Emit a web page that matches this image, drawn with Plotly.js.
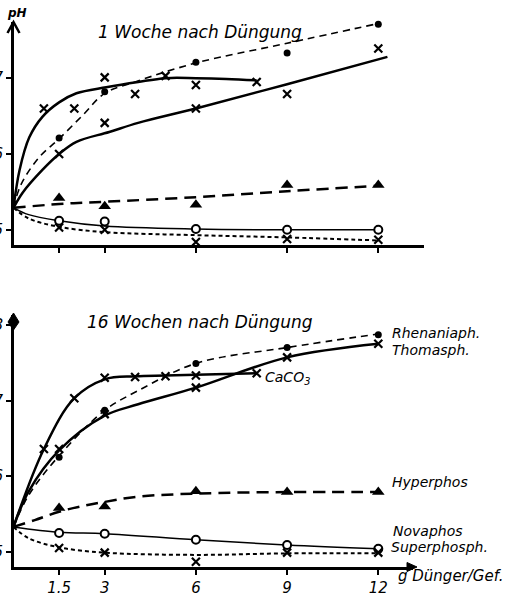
<!DOCTYPE html>
<html><head><meta charset="utf-8">
<script src="https://cdn.plot.ly/plotly-3.0.1.min.js"></script>
<style>html,body{margin:0;padding:0;background:#fff}#chart{width:507px;height:595px}</style>
</head><body><div id="chart"></div>
<script>
// ---------- DATA ----------
const doses = [1.5, 3, 6, 9, 12];
const caco3Doses = [1, 2, 3, 4, 5, 6, 8];
const xTickVals = [1.5, 3, 6, 9, 12];
const xTickText = ["1.5", "3", "6", "9", "12"];

// 1 Woche nach Düngung: measured points
const w1_rhen  = [6.21, 6.82, 7.21, 7.33, 7.71];
const w1_thom  = [6.00, 6.41, 6.60, 6.79, 7.39];
const w1_caco3 = [6.60, 6.60, 7.01, 6.79, 7.03, 6.91, 6.95];
const w1_hyper = [5.42, 5.31, 5.33, 5.59, 5.59];
const w1_nova  = [5.12, 5.11, 5.01, 5.00, 5.00];
const w1_super = [5.03, 5.00, 4.84, 4.88, 4.87];
// 1 Woche: hand-drawn curves
const w1_rhen_fx  = [0, 0.25, 0.85, 1.5, 2.3, 3, 4, 6, 9, 12];
const w1_rhen_fy  = [5.29, 5.60, 5.96, 6.20, 6.52, 6.80, 6.95, 7.20, 7.46, 7.72];
const w1_thom_fx  = [0, 0.3, 0.95, 1.5, 2.07, 3.15, 4.1, 6, 9, 12.3];
const w1_thom_fy  = [5.29, 5.49, 5.79, 6.00, 6.16, 6.29, 6.41, 6.60, 6.92, 7.28];
const w1_caco3_fx = [0, 0.2, 0.52, 0.95, 1.5, 2.07, 3.05, 4.1, 5, 6, 7, 8];
const w1_caco3_fy = [5.29, 5.79, 6.22, 6.49, 6.68, 6.80, 6.88, 6.95, 7.00, 7.00, 6.99, 6.97];
const w1_hyper_fx = [0, 1.5, 3, 6, 9, 12];
const w1_hyper_fy = [5.29, 5.34, 5.37, 5.43, 5.51, 5.58];
const w1_nova_fx  = [0, 0.5, 1.5, 3, 6, 9, 12];
const w1_nova_fy  = [5.29, 5.20, 5.12, 5.05, 5.01, 5.00, 5.00];
const w1_super_fx = [0, 0.5, 1.5, 3, 6, 9, 12];
const w1_super_fy = [5.29, 5.15, 5.04, 4.97, 4.93, 4.90, 4.86];

// 16 Wochen nach Düngung: measured points
const w16_rhen  = [6.25, 6.87, 7.49, 7.70, 7.87];
const w16_thom  = [6.36, 6.82, 7.17, 7.57, 7.75];
const w16_caco3 = [6.36, 7.03, 7.30, 7.31, 7.32, 7.33, 7.36];
const w16_hyper = [5.58, 5.60, 5.80, 5.79, 5.79];
const w16_nova  = [5.25, 5.24, 5.16, 5.09, 5.04];
const w16_super = [5.05, 4.99, 4.87, 4.99, 4.99];
// 16 Wochen: hand-drawn curves
const w16_rhen_fx  = [0, 0.5, 1.5, 3, 4.1, 6, 9, 12];
const w16_rhen_fy  = [5.33, 5.75, 6.27, 6.87, 7.13, 7.49, 7.70, 7.88];
const w16_thom_fx  = [0, 0.5, 1.5, 3, 4.1, 6, 9, 12];
const w16_thom_fy  = [5.33, 5.80, 6.34, 6.80, 6.95, 7.17, 7.57, 7.75];
const w16_caco3_fx = [0, 1, 2, 3, 4, 5, 6, 8];
const w16_caco3_fy = [5.33, 6.36, 7.03, 7.28, 7.32, 7.33, 7.34, 7.36];
const w16_hyper_fx = [0, 0.7, 1.5, 2.2, 3, 4.1, 6, 9, 12];
const w16_hyper_fy = [5.33, 5.42, 5.53, 5.60, 5.66, 5.73, 5.77, 5.79, 5.79];
const w16_nova_fx  = [0, 1.5, 3, 6, 9, 12];
const w16_nova_fy  = [5.33, 5.26, 5.24, 5.16, 5.09, 5.04];
const w16_super_fx = [0, 0.5, 1.5, 3, 6, 9, 12];
const w16_super_fy = [5.33, 5.18, 5.06, 4.99, 4.96, 4.98, 4.98];

const seriesLabels = ["Rhenaniaph.", "Thomasph.", "CaCO<sub>3</sub>", "Hyperphos", "Novaphos", "Superphosph."];

// ---------- STYLE ----------
const W = 507, H = 595;
const px = v => v / W, py = v => 1 - v / H;
const FONT = "DejaVu Sans";
const K = "#000";

const lineStyles = {
  rhen:  {color: K, width: 1.6, dash: "7px,5px", shape: "spline", smoothing: 1},
  thom:  {color: K, width: 2.5, shape: "spline", smoothing: 1},
  caco3: {color: K, width: 2.5, shape: "spline", smoothing: 1},
  hyper: {color: K, width: 2.5, dash: "12px,7px", shape: "spline", smoothing: 1},
  nova:  {color: K, width: 1.5, shape: "spline", smoothing: 1},
  sup:   {color: K, width: 2.0, dash: "4px,3px", shape: "spline", smoothing: 1}
};
const mk = {
  x:   {symbol: "x-thin", size: 8, line: {color: K, width: 2.2}, color: K},
  dot: {symbol: "circle", size: 7, color: K},
  tri: {symbol: "triangle-up", size: 11, color: K},
  o:   {symbol: "circle", size: 8, color: "#fff", line: {color: K, width: 2}}
};

function curve(x, y, style, xa, ya) {
  return {type: "scatter", mode: "lines", x: x, y: y, line: style, xaxis: xa, yaxis: ya, hoverinfo: "skip", showlegend: false};
}
function pts(x, y, m, xa, ya) {
  return {type: "scatter", mode: "markers", x: x, y: y, marker: m, xaxis: xa, yaxis: ya, hoverinfo: "skip", showlegend: false, cliponaxis: false};
}

const traces = [
  curve(w1_rhen_fx, w1_rhen_fy, lineStyles.rhen, "x", "y"),
  curve(w1_thom_fx, w1_thom_fy, lineStyles.thom, "x", "y"),
  curve(w1_caco3_fx, w1_caco3_fy, lineStyles.caco3, "x", "y"),
  curve(w1_hyper_fx, w1_hyper_fy, lineStyles.hyper, "x", "y"),
  curve(w1_nova_fx, w1_nova_fy, lineStyles.nova, "x", "y"),
  curve(w1_super_fx, w1_super_fy, lineStyles.sup, "x", "y"),
  pts(doses, w1_rhen, mk.dot, "x", "y"),
  pts(doses, w1_thom, mk.x, "x", "y"),
  pts(caco3Doses, w1_caco3, mk.x, "x", "y"),
  pts(doses, w1_hyper, mk.tri, "x", "y"),
  pts(doses, w1_nova, mk.o, "x", "y"),
  pts(doses, w1_super, mk.x, "x", "y"),

  curve(w16_rhen_fx, w16_rhen_fy, lineStyles.rhen, "x2", "y2"),
  curve(w16_thom_fx, w16_thom_fy, lineStyles.thom, "x2", "y2"),
  curve(w16_caco3_fx, w16_caco3_fy, lineStyles.caco3, "x2", "y2"),
  curve(w16_hyper_fx, w16_hyper_fy, lineStyles.hyper, "x2", "y2"),
  curve(w16_nova_fx, w16_nova_fy, lineStyles.nova, "x2", "y2"),
  curve(w16_super_fx, w16_super_fy, lineStyles.sup, "x2", "y2"),
  pts(doses, w16_rhen, mk.dot, "x2", "y2"),
  pts(doses, w16_thom, mk.x, "x2", "y2"),
  pts(caco3Doses, w16_caco3, mk.x, "x2", "y2"),
  pts(doses, w16_hyper, mk.tri, "x2", "y2"),
  pts(doses, w16_nova, mk.o, "x2", "y2"),
  pts(doses, w16_super, mk.x, "x2", "y2")
];

const axCommon = {showgrid: false, zeroline: false, showline: true, linecolor: K, linewidth: 2.5,
  ticks: "outside", tickcolor: K, tickwidth: 2, ticklen: 5, fixedrange: true};
const tickFont = {family: FONT, size: 15, color: K, style: "italic"};

const labelFont = {family: FONT, size: 14, color: K, style: "italic"};
function lab(text, x, y) {
  return {text: text, x: px(x), y: py(y), xref: "paper", yref: "paper", xanchor: "left", showarrow: false, font: labelFont};
}

const yTop = {domain: [py(245), py(22)], range: [4.80, 7.74], tickvals: [5, 6, 7]};
const yBot = {domain: [py(567), py(315)], range: [4.80, 8.13], tickvals: [5, 6, 7, 8]};

const layout = {
  width: W, height: H, margin: {l: 0, r: 0, t: 0, b: 0},
  paper_bgcolor: "#fff", plot_bgcolor: "rgba(0,0,0,0)", showlegend: false,
  xaxis: Object.assign({}, axCommon, {domain: [px(13.5), px(424)], range: [0, (424 - 13.5) / 30.4],
    tickvals: xTickVals, showticklabels: false, anchor: "y"}),
  yaxis: Object.assign({}, axCommon, yTop, {ticktext: ["5", "6", "7"], tickfont: tickFont, anchor: "x"}),
  xaxis2: Object.assign({}, axCommon, {domain: [px(13.5), px(413)], range: [0, (413 - 13.5) / 30.4],
    tickvals: xTickVals, ticktext: xTickText, tickfont: tickFont, anchor: "y2"}),
  yaxis2: Object.assign({}, axCommon, yBot, {ticktext: ["5", "6", "7", "8"], tickfont: tickFont, anchor: "x2"}),
  // inner halves of the y tick marks (ticks cross the axis)
  yaxis3: Object.assign({}, axCommon, yTop, {tickvals: [5, 6, 7], overlaying: "y", anchor: "x", ticks: "inside",
    showticklabels: false, showline: false}),
  yaxis4: Object.assign({}, axCommon, yBot, {tickvals: [5, 6, 7], overlaying: "y2", anchor: "x2", ticks: "inside",
    showticklabels: false, showline: false}),
  shapes: [
    {type: "path", xref: "paper", yref: "paper",
     path: `M ${px(7.5)},${py(33)} L ${px(13.5)},${py(22)} L ${px(19.5)},${py(33)}`,
     line: {color: K, width: 2.5}},
    {type: "path", xref: "paper", yref: "paper",
     path: `M ${px(13.5)},${py(313)} L ${px(19)},${py(322)} L ${px(13.5)},${py(330)} L ${px(8)},${py(322)} Z`,
     line: {color: K, width: 1}, fillcolor: K},
    {type: "path", xref: "paper", yref: "paper",
     path: `M ${px(417)},${py(567)} L ${px(407)},${py(562.5)} L ${px(407)},${py(571.5)} Z`,
     line: {color: K, width: 1}, fillcolor: K}
  ],
  annotations: [
    {text: "pH", x: px(5), y: py(13), xref: "paper", yref: "paper", xanchor: "left", yanchor: "middle", showarrow: false,
     font: {family: FONT, size: 12, color: K, style: "italic", weight: "bold"}},
    {text: "1 Woche nach Düngung", x: px(200), y: py(20), xref: "paper", yref: "paper", showarrow: false,
     font: {family: FONT, size: 17, color: K, style: "italic"}},
    {text: "16 Wochen nach Düngung", x: px(200), y: py(322), xref: "paper", yref: "paper", showarrow: false,
     font: {family: FONT, size: 17, color: K, style: "italic"}},
    lab(seriesLabels[0], 390, 333),
    lab(seriesLabels[1], 390, 350),
    lab(seriesLabels[2], 263, 378),
    lab(seriesLabels[3], 390, 492),
    lab(seriesLabels[4], 391, 541),
    lab(seriesLabels[5], 389, 557),
    {text: "g Dünger/Gef.", x: px(396), y: py(587), xref: "paper", yref: "paper", xanchor: "left", showarrow: false,
     font: {family: FONT, size: 15, color: K, style: "italic"}}
  ]
};

Plotly.newPlot("chart", traces, layout, {displayModeBar: false, staticPlot: true});
</script>
</body></html>
